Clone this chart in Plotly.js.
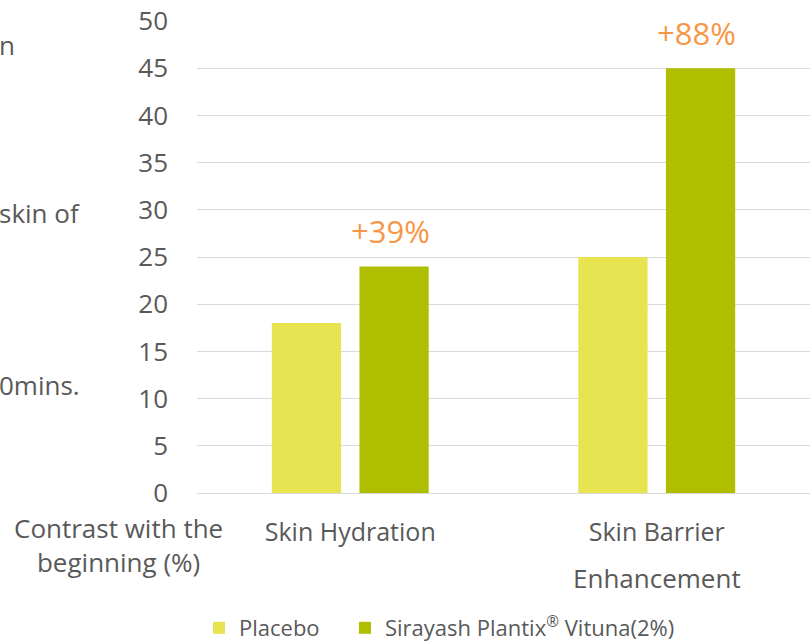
<!DOCTYPE html>
<html>
<head>
<meta charset="utf-8">
<script src="https://cdn.plot.ly/plotly-3.0.1.min.js"></script>
<style>html,body{margin:0;padding:0;background:#fff;}#chart{width:812px;height:642px;}</style>
</head>
<body>
<div id="chart"></div>
<script>
var categories = ['Skin Hydration', 'Skin Barrier'];
var categoryLabels = ['Skin Hydration', 'Skin Barrier'];
var placeboValues = [18, 25];
var vitunaValues = [24, 45];
var changeLabels = ['+39%', '+88%'];
var yTicks = [0, 5, 10, 15, 20, 25, 30, 35, 40, 45, 50];
var seriesNames = ['Placebo', 'Sirayash Plantix<sup>®</sup> Vituna(2%)'];

var FONT = 'Open Sans, sans-serif';
var GRAY = '#595959';
var ORANGE = '#F79646';

var traces = [
  {type: 'bar', name: seriesNames[0], x: categories, y: placeboValues, legend: 'legend',
   marker: {color: '#E8E350'}, hoverinfo: 'none'},
  {type: 'bar', name: seriesNames[1], x: categories, y: vitunaValues, legend: 'legend2',
   marker: {color: '#B0BE00'}, hoverinfo: 'none'}
];

var ML = 197, MR = 2, MT = 21, MB = 149;
var plotH = 642 - MT - MB, plotW = 812 - ML - MR;
function py(pix) { return 1 - (pix - MT) / plotH; }
function px(pix) { return (pix - ML) / plotW; }

var annotations = [];
var groupOffset = 0.143;
for (var i = 0; i < categories.length; i++) {
  annotations.push({
    x: i + groupOffset, xref: 'x', y: vitunaValues[i], yref: 'y',
    text: changeLabels[i], showarrow: false, yanchor: 'bottom', yshift: 12, xshift: -4,
    font: {family: FONT, size: 31, color: ORANGE}
  });
}
annotations.push({
  x: 1, xref: 'x', y: py(578), yref: 'paper', text: 'Enhancement', showarrow: false,
  xanchor: 'center', yanchor: 'middle', font: {family: FONT, size: 26, color: GRAY}
});
annotations.push({
  x: px(118), xref: 'paper', y: py(545), yref: 'paper', xanchor: 'center',
  text: 'Contrast with the<br>beginning (%)', showarrow: false, yanchor: 'middle',
  font: {family: FONT, size: 26, color: GRAY}
});
var sideTexts = [['n', 45], ['skin of', 213], ['0mins.', 385]];
sideTexts.forEach(function (s) {
  annotations.push({
    x: px(0), xref: 'paper', xanchor: 'left', xshift: -3,
    y: py(s[1]), yref: 'paper', yanchor: 'middle',
    text: s[0], showarrow: false, font: {family: FONT, size: 26, color: GRAY}
  });
});

var legendBase = {orientation: 'h', xanchor: 'left', y: py(628), yanchor: 'middle',
  xref: 'paper', yref: 'paper', bgcolor: 'rgba(0,0,0,0)',
  font: {family: FONT, size: 22, color: GRAY}, itemwidth: 30};

var layout = {
  width: 812, height: 642,
  margin: {l: ML, r: MR, t: MT, b: MB, autoexpand: false},
  paper_bgcolor: '#fff', plot_bgcolor: '#fff',
  font: {family: FONT, color: GRAY, size: 22},
  barmode: 'group', bargap: 0.428, bargroupgap: 0.21,
  showlegend: true,
  legend: Object.assign({}, legendBase, {x: px(199)}),
  legend2: Object.assign({}, legendBase, {x: px(345)}),
  xaxis: {type: 'category', tickvals: categories, ticktext: categoryLabels,
          range: [-0.5, 1.5], showgrid: false, zeroline: false, showline: false,
          automargin: false,
          ticks: '', ticklabelstandoff: 22, tickfont: {family: FONT, size: 25, color: GRAY}},
  yaxis: {range: [0, 50], tickvals: yTicks, showgrid: true, gridcolor: '#D9D9D9',
          gridwidth: 1, zeroline: true, zerolinecolor: '#D9D9D9', showline: false,
          automargin: false,
          ticks: '', ticklabelstandoff: 28, tickfont: {family: FONT, size: 26, color: GRAY}},
  annotations: annotations
};

Plotly.newPlot('chart', traces, layout, {displayModeBar: false, staticPlot: true});
</script>
</body>
</html>
